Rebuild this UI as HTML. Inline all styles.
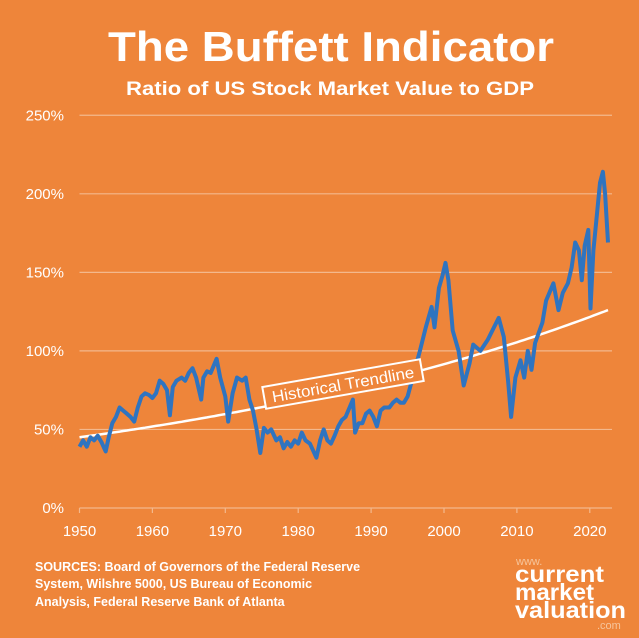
<!DOCTYPE html>
<html><head><meta charset="utf-8"><style>
html,body{margin:0;padding:0;background:#ee853a;}
svg{display:block;font-family:"Liberation Sans",sans-serif;}
</style></head><body>
<svg id="chart" width="639" height="638" viewBox="0 0 639 638">
<rect width="639" height="638" fill="#ee853a"/>
<text x="331" y="61" text-anchor="middle" fill="#fff" font-weight="bold" font-size="42" textLength="446" lengthAdjust="spacingAndGlyphs">The Buffett Indicator</text>
<text x="330" y="95" text-anchor="middle" fill="#fff" font-weight="bold" font-size="19" textLength="408" lengthAdjust="spacingAndGlyphs">Ratio of US Stock Market Value to GDP</text>
<g id="grid"></g><g id="axis"></g><g id="trend"></g><g id="series"></g>
<g transform="translate(343,384) rotate(-10)">
<rect x="-80" y="-11" width="160" height="22" fill="#ee853a" stroke="#fff" stroke-width="2"/>
<text x="0" y="6" text-anchor="middle" fill="#fff" font-size="16" textLength="144" lengthAdjust="spacingAndGlyphs">Historical Trendline</text>
</g>
<g fill="#fff" font-weight="bold" font-size="12.5">
<text x="35" y="571">SOURCES: Board of Governors of the Federal Reserve</text>
<text x="35" y="588">System, Wilshre 5000, US Bureau of Economic</text>
<text x="35" y="606">Analysis, Federal Reserve Bank of Atlanta</text>
</g>
<g fill="#fff">
<text x="516" y="565" font-size="11" fill="#f6c59c">www.</text>
<text x="515" y="582" font-weight="bold" font-size="23" textLength="89" lengthAdjust="spacingAndGlyphs">current</text>
<text x="515" y="600" font-weight="bold" font-size="23" textLength="79" lengthAdjust="spacingAndGlyphs">market</text>
<text x="515" y="618" font-weight="bold" font-size="23" textLength="111" lengthAdjust="spacingAndGlyphs">valuation</text>
<text x="597" y="629" font-size="11" fill="#f6c59c">.com</text>
</g>
</svg>
<script>
const years=[
1950,1950.5,1951,1951.5,1952,1952.5,1953,1953.6,1954,1954.5,
1955,1955.5,1956,1956.5,1957,1957.5,1958,1958.5,1959,1959.5,
1960,1960.5,1961,1961.5,1962,1962.4,1962.8,1963.3,1964,1964.5,
1965,1965.5,1966,1966.7,1967,1967.5,1968,1968.8,1969.3,1970,
1970.4,1971,1971.6,1972.3,1972.8,1973.3,1973.8,1974.3,1974.8,1975.3,
1975.8,1976.3,1977,1977.5,1978,1978.5,1979,1979.5,1980,1980.5,
1981,1981.6,1982.5,1983,1983.5,1984,1984.5,1985,1985.5,1986,
1986.5,1987.5,1987.8,1988.3,1988.8,1989.3,1989.8,1990.3,1990.8,1991.3,
1991.8,1992.5,1993,1993.5,1994,1994.5,1995,1996,1996.7,1997.5,
1998.3,1998.7,1999.3,1999.8,2000.2,2000.6,2001.2,2002,2002.7,2003.5,
2004,2005,2006,2007.5,2008.2,2008.8,2009.2,2009.8,2010.5,2011,
2011.5,2012,2012.5,2013.5,2014,2015,2015.7,2016.3,2017,2017.5,
2018,2018.5,2018.9,2019.3,2019.8,2020.1,2020.5,2021,2021.4,2021.8,
2022.1,2022.5];
const values=[
39,43,39,45,43,46,42,36,45,54,
58,64,62,60,58,55,64,71,73,72,
70,73,81,79,75,59,77,81,83,81,
86,89,83,69,83,87,86,95,83,71,
55,73,83,81,83,69,62,50,35,51,
48,50,43,45,38,42,39,43,41,48,
43,41,32,43,50,43,41,46,52,56,
58,69,48,54,54,60,62,58,52,62,
64,64,67,69,67,67,71,88,100,115,
128,115,140,148,156,145,113,100,78,92,
104,100,107,121,109,80,58,83,94,83,
100,88,105,118,132,143,126,137,143,153,
169,164,145,167,177,127,164,188,207,214,
200,169];
const ticksY=[0,50,100,150,200,250];
const ticksX=[1950,1960,1970,1980,1990,2000,2010,2020];
const trendEnds=[45,126];
const trendYears=[1950,2022.5];
const NS="http://www.w3.org/2000/svg";
const X=y=>79.5+(y-1950)*7.29;
const Y=v=>508-v*1.571;
function mk(tag,attrs,parent){const e=document.createElementNS(NS,tag);for(const k in attrs)e.setAttribute(k,attrs[k]);document.getElementById(parent).appendChild(e);return e;}
ticksY.forEach(t=>{
  if(t>0){const l=mk('line',{x1:79.5,x2:612,y1:Y(t),y2:Y(t),stroke:'#f3b88c','stroke-width':1.2},'grid');
  
  }
  const tx=mk('text',{x:64,y:Y(t)+5,'text-anchor':'end',fill:'#fff','font-size':15},'grid');
  tx.textContent=t+'%';
  
  
});
const ax=mk('line',{x1:79.5,x2:612,y1:508,y2:508,stroke:'#f3b88c','stroke-width':1.2},'axis');


ticksX.forEach(t=>{
  const tk=mk('line',{x1:X(t),x2:X(t),y1:508,y2:513,stroke:'#f3b88c','stroke-width':1.2},'axis');
  
  
  const tx=mk('text',{x:X(t),y:536,'text-anchor':'middle',fill:'#fff','font-size':15},'axis');
  tx.textContent=t;
  
  
});
const k=Math.log(trendEnds[1]/trendEnds[0])/(trendYears[1]-trendYears[0]);
let td='';for(let y=trendYears[0];y<=trendYears[1]+0.01;y+=0.5){td+=(td?'L':'M')+X(y).toFixed(1)+','+Y(trendEnds[0]*Math.exp(k*(y-trendYears[0]))).toFixed(1);}
const tp=mk('path',{d:td,fill:'none',stroke:'#fff','stroke-width':2.5},'trend');


const n=Math.min(years.length,values.length);
let sd='';for(let i=0;i<n;i++){sd+=(i?'L':'M')+X(years[i]).toFixed(1)+','+Y(values[i]).toFixed(1);}
const sp=mk('path',{d:sd,fill:'none',stroke:'#2f74c0','stroke-width':4,'stroke-linejoin':'round'},'series');


</script>
</body></html>
